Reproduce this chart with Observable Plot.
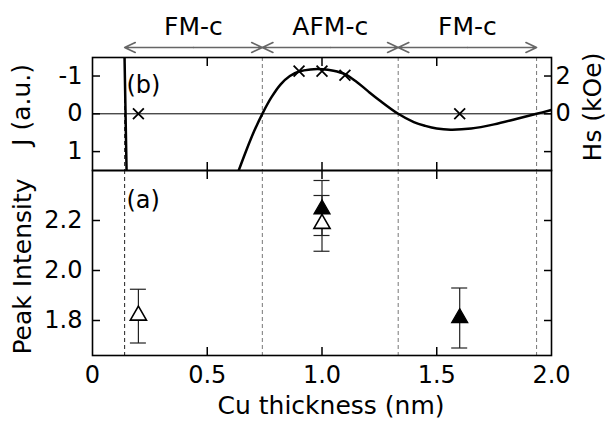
<!DOCTYPE html>
<html><head><meta charset="utf-8">
<script src="https://cdn.jsdelivr.net/npm/d3@7"></script>
<script src="https://cdn.jsdelivr.net/npm/@observablehq/plot@0.6"></script>
<style>
body{margin:0;background:#fff;}
#chart{position:relative;width:605px;height:428px;background:#fff;}
#chart svg{position:absolute;left:0;overflow:visible;}
</style></head><body><div id="chart"></div>
<script>
// Phase-region boundaries (Cu thickness, nm)
const boundaries = [0.14, 0.74, 1.332, 1.935];
const regionStart = [0.14, 0.74, 1.332];
const regionEnd = [0.74, 1.332, 1.935];
const regionLabels = ["FM-c", "AFM-c", "FM-c"];

// (b) J curve, a.u. (two branches)
const branch1X = [0.139, 0.149];
const branch1J = [-1.7, 1.7];
const branch2X = [0.625, 0.637, 0.67, 0.705, 0.74, 0.78, 0.82, 0.86, 0.90, 0.95, 1.00, 1.05, 1.10, 1.15, 1.20, 1.25, 1.332, 1.40, 1.45, 1.50, 1.56, 1.65, 1.75, 1.85, 1.935, 2.0];
const branch2J = [1.69, 1.5, 0.97, 0.45, 0.0, -0.44, -0.78, -1.0, -1.12, -1.175, -1.18, -1.14, -1.05, -0.85, -0.6, -0.36, 0.0, 0.22, 0.32, 0.39, 0.42, 0.39, 0.28, 0.13, 0.0, -0.1];

// (b) Hs measurements, kOe
const hsX = [0.2, 0.9, 1.0, 1.1, 1.6];
const hsVal = [0, 2.26, 2.26, 2.04, 0];
const hsPerJ = -2; // right axis: Hs = -2 * J

// (a) Peak intensity
const openX = [0.2, 1.0];
const openY = [1.82, 2.187];
const openLo = [1.71, 2.077];
const openHi = [1.925, 2.30];
const filledX = [1.0, 1.6];
const filledY = [2.245, 1.81];
const filledLo = [2.14, 1.69];
const filledHi = [2.36, 1.93];

// Ticks
const xMinorTicks = [0.5, 1.0, 1.5];
const xLabelTicks = [0, 0.5, 1.0, 1.5, 2.0];
const xLabelText = ["0", "0.5", "1.0", "1.5", "2.0"];
const jTicks = [-1, 0, 1];
const hsTicks = [2, 0];
const hsMinorTicks = [-2];
const intensityTicks = [1.8, 2.0, 2.2];

const FONT = "DejaVu Sans";
const xDomain = [0, 2];
const jDomain = [1.5, -1.49];
const iDomain = [1.66, 2.4];
const ML = 92, MR = 54;

const curve1 = branch1X.map((x, i) => ({x, j: branch1J[i]}));
const curve2 = branch2X.map((x, i) => ({x, j: branch2J[i]}));
const hsData = hsX.map((x, i) => ({x, hs: hsVal[i]}));
const openData = openX.map((x, i) => ({x, y: openY[i], lo: openLo[i], hi: openHi[i]}));
const filledData = filledX.map((x, i) => ({x, y: filledY[i], lo: filledLo[i], hi: filledHi[i]}));
const regions = regionLabels.map((label, i) => ({label, a: regionStart[i], b: regionEnd[i], m: (regionStart[i] + regionEnd[i]) / 2}));

const dashStyle = (i) => i === 0 ? "#222" : "#777";

const topPlot = Plot.plot({
  width: 605, height: 170,
  marginTop: 57, marginBottom: 0, marginLeft: ML, marginRight: MR,
  style: {fontFamily: FONT, fontSize: "24px", background: "transparent", overflow: "visible", color: "black"},
  x: {domain: xDomain},
  y: {domain: jDomain},
  marks: [
    Plot.ruleX(boundaries, {stroke: (d, i) => dashStyle(i), strokeDasharray: "4,3", strokeWidth: 1}),
    Plot.ruleY([0], {stroke: "black", strokeWidth: 1}),
    Plot.line(curve1, {x: "x", y: "j", stroke: "black", strokeWidth: 2.5, clip: true}),
    Plot.line(curve2, {x: "x", y: "j", stroke: "black", strokeWidth: 2.5, clip: true, curve: "catmull-rom"}),
    Plot.dot(hsData, {x: "x", y: d => d.hs / hsPerJ, symbol: "times", r: 5, stroke: "black", strokeWidth: 1.8}),
    Plot.frame({stroke: "black", strokeWidth: 1.6}),
    Plot.axisY(jTicks, {anchor: "left", tickSize: -8, tickPadding: 18, tickFormat: d => String(d), label: null, strokeWidth: 1.5}),
    Plot.axisY(hsTicks.map(h => h / hsPerJ), {anchor: "right", tickSize: -8, tickPadding: 12, tickFormat: d => String(Math.round(d * hsPerJ) + 0), label: null, strokeWidth: 1.5}),
    Plot.axisY(hsMinorTicks.map(h => h / hsPerJ), {anchor: "right", tickSize: -8, tickFormat: () => "", label: null, strokeWidth: 1.5}),
    Plot.axisX(xMinorTicks, {anchor: "top", tickSize: -8, tickFormat: () => "", label: null, strokeWidth: 1.5}),
    Plot.axisX(xMinorTicks, {anchor: "bottom", tickSize: -8, tickFormat: () => "", label: null, strokeWidth: 1.5}),
    // double-headed arrows above the panel
    Plot.arrow(regions, {x1: "m", x2: "a", y1: jDomain[1], y2: jDomain[1], dy: -10, stroke: "#666", strokeWidth: 1.6, headAngle: 50, headLength: 11}),
    Plot.arrow(regions, {x1: "m", x2: "b", y1: jDomain[1], y2: jDomain[1], dy: -10, stroke: "#666", strokeWidth: 1.6, headAngle: 50, headLength: 11}),
    Plot.text(regions, {x: "m", y: jDomain[1], dy: -31, text: "label", fontSize: 25}),
    Plot.text(["(b)"], {frameAnchor: "top-left", dx: 34, dy: 18.5, textAnchor: "start"}),
    Plot.text(["J (a.u.)"], {frameAnchor: "left", textAnchor: "middle", dx: -71, dy: -9, rotate: -90, fontSize: 25}),
    Plot.text(["Hs (kOe)"], {frameAnchor: "right", textAnchor: "middle", dx: 41, dy: -7, rotate: -90, fontSize: 25})
  ]
});

const bottomPlot = Plot.plot({
  width: 605, height: 258,
  marginTop: 0, marginBottom: 73, marginLeft: ML, marginRight: MR,
  style: {fontFamily: FONT, fontSize: "24px", background: "transparent", overflow: "visible", color: "black"},
  x: {domain: xDomain},
  y: {domain: iDomain},
  marks: [
    Plot.ruleX(boundaries, {stroke: (d, i) => dashStyle(i), strokeDasharray: "4,3", strokeWidth: 1}),
    Plot.link(openData.concat(filledData), {x1: "x", x2: "x", y1: "lo", y2: "hi", stroke: "#222", strokeWidth: 1.2}),
    Plot.ruleY(openData.concat(filledData), {y: "lo", x1: "x", x2: "x", insetLeft: -8, insetRight: -8, stroke: "#222", strokeWidth: 1.2}),
    Plot.ruleY(openData.concat(filledData), {y: "hi", x1: "x", x2: "x", insetLeft: -8, insetRight: -8, stroke: "#222", strokeWidth: 1.2}),
    Plot.dot(openData, {x: "x", y: "y", symbol: "triangle", r: 6, fill: "white", stroke: "black", strokeWidth: 1.6}),
    Plot.dot(filledData, {x: "x", y: "y", symbol: "triangle", r: 6, fill: "black", stroke: "black", strokeWidth: 1.2}),
    Plot.frame({stroke: "black", strokeWidth: 1.6}),
    Plot.axisY(intensityTicks, {anchor: "left", tickSize: -8, tickPadding: 18, tickFormat: d => d.toFixed(1), label: null, strokeWidth: 1.5}),
    Plot.axisY(intensityTicks, {anchor: "right", tickSize: -8, tickFormat: () => "", label: null, strokeWidth: 1.5}),
    Plot.axisX(xMinorTicks, {anchor: "top", tickSize: -8, tickFormat: () => "", label: null, strokeWidth: 1.5}),
    Plot.axisX(xMinorTicks, {anchor: "bottom", tickSize: -8, tickFormat: () => "", label: null, strokeWidth: 1.5}),
    Plot.axisX(xLabelTicks, {anchor: "bottom", tickSize: 0, tickPadding: 10, tickFormat: d => xLabelText[xLabelTicks.indexOf(d)], label: null}),
    Plot.text(["(a)"], {frameAnchor: "top-left", dx: 34, dy: 20, textAnchor: "start"}),
    Plot.text(["Peak Intensity"], {frameAnchor: "left", textAnchor: "middle", dx: -70, dy: 3.5, rotate: -90, fontSize: 25}),
    Plot.text(["Cu thickness (nm)"], {frameAnchor: "bottom", dx: 9, dy: 58, fontSize: 25})
  ]
});

const chart = document.getElementById("chart");
topPlot.style.top = "0px";
bottomPlot.style.top = "170px";
chart.append(topPlot, bottomPlot);
</script>
</body></html>
